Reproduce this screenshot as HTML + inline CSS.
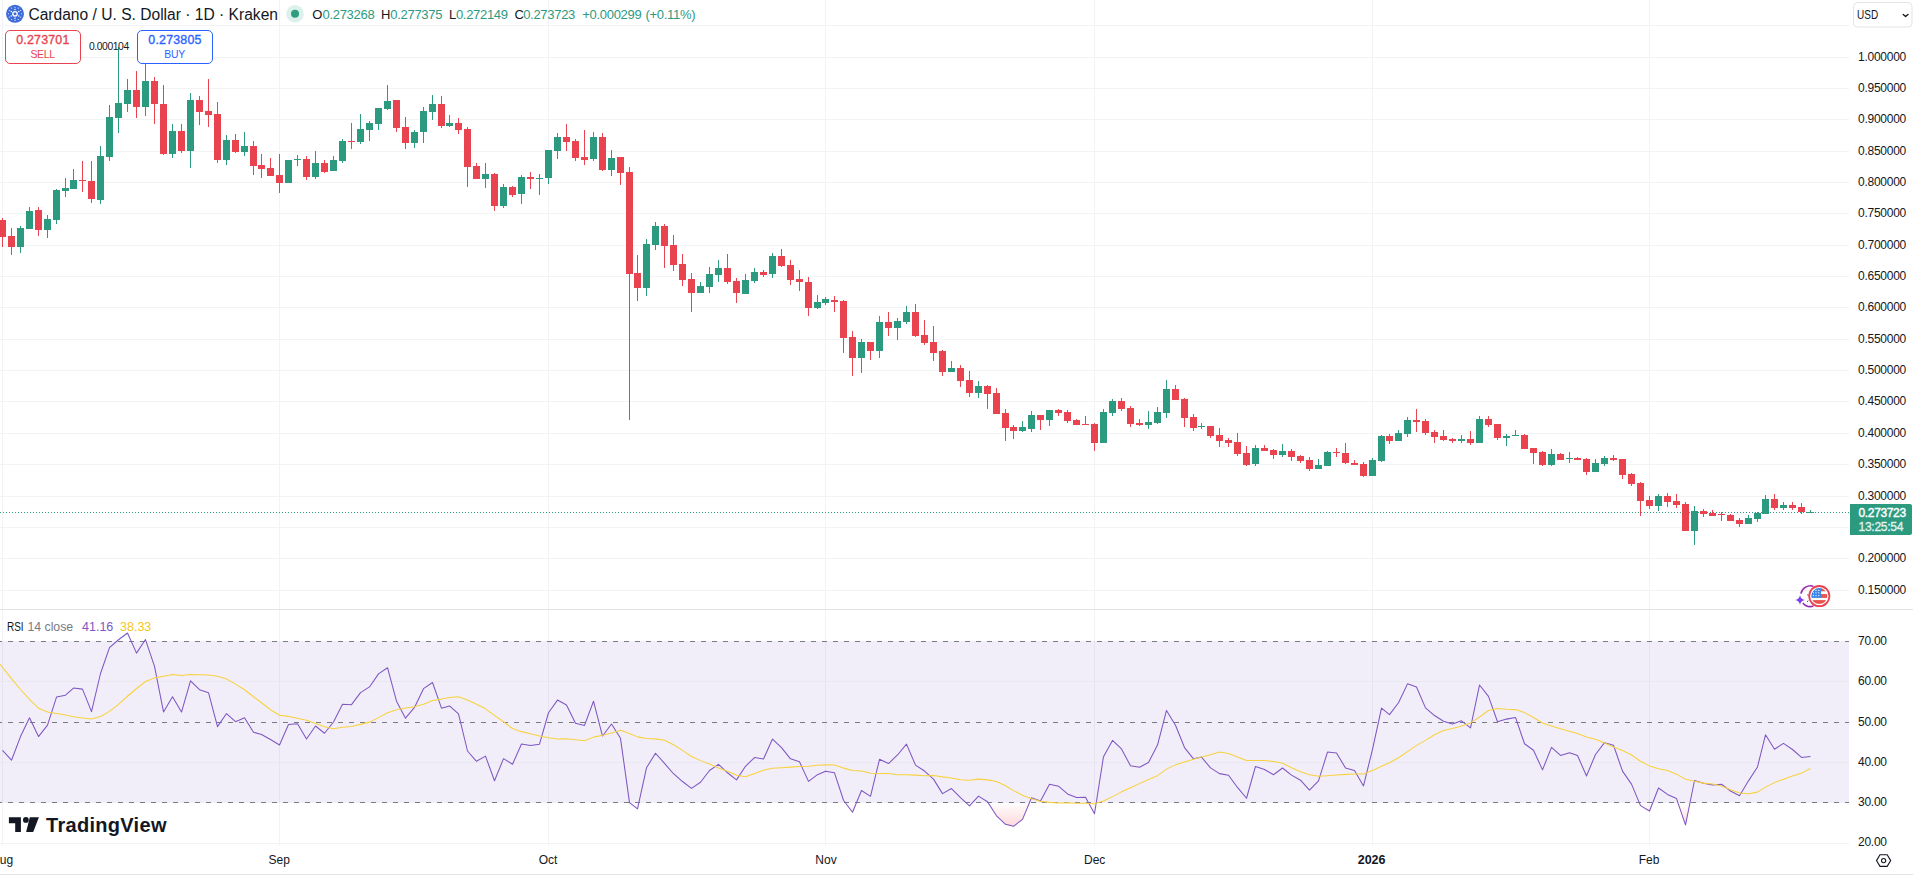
<!DOCTYPE html>
<html><head><meta charset="utf-8"><style>
html,body{margin:0;padding:0;background:#fff;}
#root{position:relative;width:1913px;height:875px;overflow:hidden;background:#fff;font-family:"Liberation Sans",sans-serif;}
#root div{font-family:"Liberation Sans",sans-serif;}
svg{position:absolute;left:0;top:0;}
</style></head><body><div id="root">
<svg width="1913" height="875" viewBox="0 0 1913 875">
<g shape-rendering="crispEdges">
<rect x="2" y="0" width="1" height="846" fill="#F2F3F4"/>
<rect x="279" y="0" width="1" height="846" fill="#F2F3F4"/>
<rect x="548" y="0" width="1" height="846" fill="#F2F3F4"/>
<rect x="825" y="0" width="1" height="846" fill="#F2F3F4"/>
<rect x="1094" y="0" width="1" height="846" fill="#F2F3F4"/>
<rect x="1372" y="0" width="1" height="846" fill="#F2F3F4"/>
<rect x="1649" y="0" width="1" height="846" fill="#F2F3F4"/>
<rect x="0" y="25" width="1849" height="1" fill="#F2F3F4"/>
<rect x="0" y="57" width="1849" height="1" fill="#F2F3F4"/>
<rect x="0" y="88" width="1849" height="1" fill="#F2F3F4"/>
<rect x="0" y="119" width="1849" height="1" fill="#F2F3F4"/>
<rect x="0" y="151" width="1849" height="1" fill="#F2F3F4"/>
<rect x="0" y="182" width="1849" height="1" fill="#F2F3F4"/>
<rect x="0" y="213" width="1849" height="1" fill="#F2F3F4"/>
<rect x="0" y="245" width="1849" height="1" fill="#F2F3F4"/>
<rect x="0" y="276" width="1849" height="1" fill="#F2F3F4"/>
<rect x="0" y="307" width="1849" height="1" fill="#F2F3F4"/>
<rect x="0" y="339" width="1849" height="1" fill="#F2F3F4"/>
<rect x="0" y="370" width="1849" height="1" fill="#F2F3F4"/>
<rect x="0" y="401" width="1849" height="1" fill="#F2F3F4"/>
<rect x="0" y="433" width="1849" height="1" fill="#F2F3F4"/>
<rect x="0" y="464" width="1849" height="1" fill="#F2F3F4"/>
<rect x="0" y="496" width="1849" height="1" fill="#F2F3F4"/>
<rect x="0" y="527" width="1849" height="1" fill="#F2F3F4"/>
<rect x="0" y="558" width="1849" height="1" fill="#F2F3F4"/>
<rect x="0" y="590" width="1849" height="1" fill="#F2F3F4"/>
<rect x="0" y="641" width="1849" height="162" fill="rgba(126,87,194,0.1)"/>
<rect x="0" y="681" width="1849" height="1" fill="#E9E7EF"/>
<rect x="0" y="762" width="1849" height="1" fill="#E9E7EF"/>
<rect x="0" y="843" width="1849" height="1" fill="#F2F3F4"/>
</g>
<defs><linearGradient id="gos" gradientUnits="userSpaceOnUse" x1="0" y1="802.5" x2="0" y2="923.4"><stop offset="0" stop-color="#F23645" stop-opacity="0"/><stop offset="1" stop-color="#F23645" stop-opacity="1"/></linearGradient><linearGradient id="gob" gradientUnits="userSpaceOnUse" x1="0" y1="641.3" x2="0" y2="520.4"><stop offset="0" stop-color="#089981" stop-opacity="0"/><stop offset="1" stop-color="#089981" stop-opacity="1"/></linearGradient><clipPath id="cos"><rect x="0" y="802.5" width="1849" height="60"/></clipPath><clipPath id="cob"><rect x="0" y="600" width="1849" height="41.3"/></clipPath></defs>
<polygon clip-path="url(#cos)" points="2.5,802.5 2.5,750.43 11.5,760.20 20.5,736.59 29.5,717.85 38.5,736.60 47.5,725.09 56.5,697.11 65.5,695.20 73.5,688.05 82.5,689.14 91.5,711.60 100.5,673.50 109.5,647.64 118.5,639.75 127.5,632.98 136.5,653.11 145.5,639.56 154.5,666.40 163.5,711.94 172.5,696.81 181.5,712.07 190.5,680.81 199.5,689.68 208.5,692.66 217.5,726.62 226.5,713.56 235.5,721.73 244.5,717.70 253.5,732.23 261.5,734.44 270.5,739.54 279.5,744.94 288.5,724.54 297.5,723.85 306.5,738.94 315.5,726.02 324.5,733.23 333.5,722.03 342.5,704.21 351.5,704.65 360.5,692.57 369.5,686.93 378.5,673.87 387.5,667.73 396.5,701.20 405.5,718.20 414.5,707.46 423.5,688.66 432.5,682.54 441.5,708.18 449.5,705.96 458.5,713.91 467.5,751.00 476.5,761.28 485.5,756.16 494.5,780.77 503.5,758.66 512.5,764.25 521.5,744.00 530.5,745.41 539.5,744.21 548.5,712.74 557.5,700.08 566.5,704.94 575.5,723.19 584.5,725.40 593.5,701.24 602.5,736.05 611.5,724.04 620.5,738.32 629.5,802.62 637.5,808.94 646.5,767.77 655.5,753.27 664.5,763.39 673.5,773.72 682.5,781.53 691.5,788.35 700.5,782.25 709.5,770.50 718.5,764.34 727.5,772.76 736.5,779.91 745.5,766.28 754.5,757.53 763.5,758.96 772.5,739.04 781.5,747.59 790.5,758.87 799.5,761.81 808.5,781.38 817.5,774.69 825.5,771.15 834.5,772.84 843.5,800.25 852.5,812.27 861.5,790.50 870.5,796.32 879.5,759.35 888.5,763.57 897.5,754.97 906.5,744.10 915.5,765.09 924.5,771.03 933.5,779.14 942.5,793.60 951.5,788.52 960.5,797.71 969.5,805.95 978.5,796.14 987.5,801.78 996.5,815.78 1005.5,824.36 1013.5,826.34 1022.5,819.38 1031.5,797.68 1040.5,800.91 1049.5,784.20 1058.5,786.19 1067.5,793.91 1076.5,797.45 1085.5,797.36 1094.5,813.78 1103.5,756.63 1112.5,740.42 1121.5,748.95 1130.5,765.78 1139.5,767.20 1148.5,762.49 1157.5,745.01 1166.5,710.41 1175.5,725.23 1184.5,747.57 1193.5,758.83 1201.5,757.12 1210.5,767.93 1219.5,773.61 1228.5,775.29 1237.5,787.46 1246.5,798.26 1255.5,766.46 1264.5,769.48 1273.5,774.71 1282.5,768.03 1291.5,775.16 1300.5,780.19 1309.5,790.04 1318.5,780.94 1327.5,752.05 1336.5,752.91 1345.5,767.97 1354.5,770.45 1363.5,785.91 1372.5,749.27 1381.5,708.03 1389.5,714.68 1398.5,702.73 1407.5,683.87 1416.5,687.02 1425.5,707.89 1434.5,715.54 1443.5,721.24 1452.5,724.02 1461.5,720.80 1470.5,727.84 1479.5,685.02 1488.5,696.34 1497.5,721.70 1506.5,719.11 1515.5,717.43 1524.5,743.74 1533.5,750.25 1542.5,769.85 1551.5,747.32 1560.5,755.45 1569.5,752.77 1577.5,755.48 1586.5,775.94 1595.5,754.45 1604.5,742.69 1613.5,745.27 1622.5,771.11 1631.5,784.10 1640.5,805.59 1649.5,811.05 1658.5,787.99 1667.5,794.44 1676.5,798.58 1685.5,824.93 1694.5,780.51 1703.5,783.22 1712.5,785.08 1721.5,784.26 1730.5,791.01 1739.5,795.77 1748.5,780.84 1757.5,766.92 1765.5,734.80 1774.5,749.24 1783.5,743.37 1792.5,749.49 1801.5,757.46 1810.5,756.49 1810.5,802.5" fill="url(#gos)"/>
<polygon clip-path="url(#cob)" points="2.5,641.3 2.5,750.43 11.5,760.20 20.5,736.59 29.5,717.85 38.5,736.60 47.5,725.09 56.5,697.11 65.5,695.20 73.5,688.05 82.5,689.14 91.5,711.60 100.5,673.50 109.5,647.64 118.5,639.75 127.5,632.98 136.5,653.11 145.5,639.56 154.5,666.40 163.5,711.94 172.5,696.81 181.5,712.07 190.5,680.81 199.5,689.68 208.5,692.66 217.5,726.62 226.5,713.56 235.5,721.73 244.5,717.70 253.5,732.23 261.5,734.44 270.5,739.54 279.5,744.94 288.5,724.54 297.5,723.85 306.5,738.94 315.5,726.02 324.5,733.23 333.5,722.03 342.5,704.21 351.5,704.65 360.5,692.57 369.5,686.93 378.5,673.87 387.5,667.73 396.5,701.20 405.5,718.20 414.5,707.46 423.5,688.66 432.5,682.54 441.5,708.18 449.5,705.96 458.5,713.91 467.5,751.00 476.5,761.28 485.5,756.16 494.5,780.77 503.5,758.66 512.5,764.25 521.5,744.00 530.5,745.41 539.5,744.21 548.5,712.74 557.5,700.08 566.5,704.94 575.5,723.19 584.5,725.40 593.5,701.24 602.5,736.05 611.5,724.04 620.5,738.32 629.5,802.62 637.5,808.94 646.5,767.77 655.5,753.27 664.5,763.39 673.5,773.72 682.5,781.53 691.5,788.35 700.5,782.25 709.5,770.50 718.5,764.34 727.5,772.76 736.5,779.91 745.5,766.28 754.5,757.53 763.5,758.96 772.5,739.04 781.5,747.59 790.5,758.87 799.5,761.81 808.5,781.38 817.5,774.69 825.5,771.15 834.5,772.84 843.5,800.25 852.5,812.27 861.5,790.50 870.5,796.32 879.5,759.35 888.5,763.57 897.5,754.97 906.5,744.10 915.5,765.09 924.5,771.03 933.5,779.14 942.5,793.60 951.5,788.52 960.5,797.71 969.5,805.95 978.5,796.14 987.5,801.78 996.5,815.78 1005.5,824.36 1013.5,826.34 1022.5,819.38 1031.5,797.68 1040.5,800.91 1049.5,784.20 1058.5,786.19 1067.5,793.91 1076.5,797.45 1085.5,797.36 1094.5,813.78 1103.5,756.63 1112.5,740.42 1121.5,748.95 1130.5,765.78 1139.5,767.20 1148.5,762.49 1157.5,745.01 1166.5,710.41 1175.5,725.23 1184.5,747.57 1193.5,758.83 1201.5,757.12 1210.5,767.93 1219.5,773.61 1228.5,775.29 1237.5,787.46 1246.5,798.26 1255.5,766.46 1264.5,769.48 1273.5,774.71 1282.5,768.03 1291.5,775.16 1300.5,780.19 1309.5,790.04 1318.5,780.94 1327.5,752.05 1336.5,752.91 1345.5,767.97 1354.5,770.45 1363.5,785.91 1372.5,749.27 1381.5,708.03 1389.5,714.68 1398.5,702.73 1407.5,683.87 1416.5,687.02 1425.5,707.89 1434.5,715.54 1443.5,721.24 1452.5,724.02 1461.5,720.80 1470.5,727.84 1479.5,685.02 1488.5,696.34 1497.5,721.70 1506.5,719.11 1515.5,717.43 1524.5,743.74 1533.5,750.25 1542.5,769.85 1551.5,747.32 1560.5,755.45 1569.5,752.77 1577.5,755.48 1586.5,775.94 1595.5,754.45 1604.5,742.69 1613.5,745.27 1622.5,771.11 1631.5,784.10 1640.5,805.59 1649.5,811.05 1658.5,787.99 1667.5,794.44 1676.5,798.58 1685.5,824.93 1694.5,780.51 1703.5,783.22 1712.5,785.08 1721.5,784.26 1730.5,791.01 1739.5,795.77 1748.5,780.84 1757.5,766.92 1765.5,734.80 1774.5,749.24 1783.5,743.37 1792.5,749.49 1801.5,757.46 1810.5,756.49 1810.5,641.3" fill="url(#gob)"/>
<line x1="0" y1="641.5" x2="1849" y2="641.5" stroke="#787B86" stroke-width="1" stroke-dasharray="5 6" stroke-dashoffset="2.8" shape-rendering="crispEdges"/>
<line x1="0" y1="722.5" x2="1849" y2="722.5" stroke="#787B86" stroke-width="1" stroke-dasharray="5 6" stroke-dashoffset="2.8" shape-rendering="crispEdges"/>
<line x1="0" y1="802.5" x2="1849" y2="802.5" stroke="#787B86" stroke-width="1" stroke-dasharray="5 6" stroke-dashoffset="2.8" shape-rendering="crispEdges"/>
<line x1="0" y1="512.5" x2="1849" y2="512.5" stroke="#2C9A7F" stroke-width="1" stroke-dasharray="1 2" shape-rendering="crispEdges"/>
<g shape-rendering="crispEdges">
<rect x="2" y="218" width="1" height="29" fill="#E8434F"/>
<rect x="-1" y="220" width="7" height="17" fill="#E8434F"/>
<rect x="11" y="228" width="1" height="27" fill="#E8434F"/>
<rect x="8" y="236" width="7" height="11" fill="#E8434F"/>
<rect x="20" y="226" width="1" height="27" fill="#2C9A7F"/>
<rect x="17" y="228" width="7" height="19" fill="#2C9A7F"/>
<rect x="29" y="207" width="1" height="22" fill="#2C9A7F"/>
<rect x="26" y="211" width="7" height="18" fill="#2C9A7F"/>
<rect x="38" y="207" width="1" height="29" fill="#E8434F"/>
<rect x="35" y="210" width="7" height="20" fill="#E8434F"/>
<rect x="47" y="215" width="1" height="23" fill="#2C9A7F"/>
<rect x="44" y="219" width="7" height="11" fill="#2C9A7F"/>
<rect x="56" y="189" width="1" height="35" fill="#2C9A7F"/>
<rect x="53" y="190" width="7" height="30" fill="#2C9A7F"/>
<rect x="65" y="178" width="1" height="19" fill="#2C9A7F"/>
<rect x="62" y="188" width="7" height="3" fill="#2C9A7F"/>
<rect x="73" y="169" width="1" height="20" fill="#2C9A7F"/>
<rect x="70" y="180" width="7" height="9" fill="#2C9A7F"/>
<rect x="82" y="161" width="1" height="31" fill="#E8434F"/>
<rect x="79" y="180" width="7" height="1" fill="#E8434F"/>
<rect x="91" y="161" width="1" height="42" fill="#E8434F"/>
<rect x="88" y="181" width="7" height="18" fill="#E8434F"/>
<rect x="100" y="146" width="1" height="58" fill="#2C9A7F"/>
<rect x="97" y="156" width="7" height="44" fill="#2C9A7F"/>
<rect x="109" y="105" width="1" height="56" fill="#2C9A7F"/>
<rect x="106" y="117" width="7" height="40" fill="#2C9A7F"/>
<rect x="118" y="47" width="1" height="86" fill="#2C9A7F"/>
<rect x="115" y="103" width="7" height="15" fill="#2C9A7F"/>
<rect x="127" y="79" width="1" height="33" fill="#2C9A7F"/>
<rect x="124" y="90" width="7" height="14" fill="#2C9A7F"/>
<rect x="136" y="71" width="1" height="47" fill="#E8434F"/>
<rect x="133" y="90" width="7" height="17" fill="#E8434F"/>
<rect x="145" y="64" width="1" height="52" fill="#2C9A7F"/>
<rect x="142" y="81" width="7" height="26" fill="#2C9A7F"/>
<rect x="154" y="77" width="1" height="47" fill="#E8434F"/>
<rect x="151" y="81" width="7" height="23" fill="#E8434F"/>
<rect x="163" y="85" width="1" height="70" fill="#E8434F"/>
<rect x="160" y="104" width="7" height="50" fill="#E8434F"/>
<rect x="172" y="124" width="1" height="34" fill="#2C9A7F"/>
<rect x="169" y="131" width="7" height="23" fill="#2C9A7F"/>
<rect x="181" y="124" width="1" height="29" fill="#E8434F"/>
<rect x="178" y="131" width="7" height="20" fill="#E8434F"/>
<rect x="190" y="93" width="1" height="75" fill="#2C9A7F"/>
<rect x="187" y="100" width="7" height="51" fill="#2C9A7F"/>
<rect x="199" y="96" width="1" height="29" fill="#E8434F"/>
<rect x="196" y="100" width="7" height="12" fill="#E8434F"/>
<rect x="208" y="79" width="1" height="48" fill="#E8434F"/>
<rect x="205" y="111" width="7" height="4" fill="#E8434F"/>
<rect x="217" y="102" width="1" height="61" fill="#E8434F"/>
<rect x="214" y="114" width="7" height="46" fill="#E8434F"/>
<rect x="226" y="135" width="1" height="30" fill="#2C9A7F"/>
<rect x="223" y="140" width="7" height="20" fill="#2C9A7F"/>
<rect x="235" y="134" width="1" height="19" fill="#E8434F"/>
<rect x="232" y="140" width="7" height="12" fill="#E8434F"/>
<rect x="244" y="132" width="1" height="24" fill="#2C9A7F"/>
<rect x="241" y="146" width="7" height="6" fill="#2C9A7F"/>
<rect x="253" y="141" width="1" height="34" fill="#E8434F"/>
<rect x="250" y="146" width="7" height="20" fill="#E8434F"/>
<rect x="261" y="154" width="1" height="24" fill="#E8434F"/>
<rect x="258" y="165" width="7" height="4" fill="#E8434F"/>
<rect x="270" y="158" width="1" height="18" fill="#E8434F"/>
<rect x="267" y="168" width="7" height="8" fill="#E8434F"/>
<rect x="279" y="154" width="1" height="39" fill="#E8434F"/>
<rect x="276" y="175" width="7" height="8" fill="#E8434F"/>
<rect x="288" y="160" width="1" height="23" fill="#2C9A7F"/>
<rect x="285" y="160" width="7" height="23" fill="#2C9A7F"/>
<rect x="297" y="155" width="1" height="11" fill="#2C9A7F"/>
<rect x="294" y="159" width="7" height="1" fill="#2C9A7F"/>
<rect x="306" y="156" width="1" height="24" fill="#E8434F"/>
<rect x="303" y="159" width="7" height="18" fill="#E8434F"/>
<rect x="315" y="151" width="1" height="28" fill="#2C9A7F"/>
<rect x="312" y="163" width="7" height="14" fill="#2C9A7F"/>
<rect x="324" y="160" width="1" height="13" fill="#E8434F"/>
<rect x="321" y="163" width="7" height="9" fill="#E8434F"/>
<rect x="333" y="156" width="1" height="15" fill="#2C9A7F"/>
<rect x="330" y="160" width="7" height="11" fill="#2C9A7F"/>
<rect x="342" y="139" width="1" height="24" fill="#2C9A7F"/>
<rect x="339" y="141" width="7" height="20" fill="#2C9A7F"/>
<rect x="351" y="123" width="1" height="26" fill="#E8434F"/>
<rect x="348" y="141" width="7" height="1" fill="#E8434F"/>
<rect x="360" y="114" width="1" height="30" fill="#2C9A7F"/>
<rect x="357" y="129" width="7" height="13" fill="#2C9A7F"/>
<rect x="369" y="121" width="1" height="20" fill="#2C9A7F"/>
<rect x="366" y="123" width="7" height="7" fill="#2C9A7F"/>
<rect x="378" y="108" width="1" height="22" fill="#2C9A7F"/>
<rect x="375" y="108" width="7" height="16" fill="#2C9A7F"/>
<rect x="387" y="85" width="1" height="25" fill="#2C9A7F"/>
<rect x="384" y="101" width="7" height="8" fill="#2C9A7F"/>
<rect x="396" y="100" width="1" height="32" fill="#E8434F"/>
<rect x="393" y="100" width="7" height="28" fill="#E8434F"/>
<rect x="405" y="117" width="1" height="32" fill="#E8434F"/>
<rect x="402" y="127" width="7" height="16" fill="#E8434F"/>
<rect x="414" y="130" width="1" height="18" fill="#2C9A7F"/>
<rect x="411" y="132" width="7" height="11" fill="#2C9A7F"/>
<rect x="423" y="107" width="1" height="36" fill="#2C9A7F"/>
<rect x="420" y="111" width="7" height="21" fill="#2C9A7F"/>
<rect x="432" y="95" width="1" height="25" fill="#2C9A7F"/>
<rect x="429" y="104" width="7" height="8" fill="#2C9A7F"/>
<rect x="441" y="96" width="1" height="32" fill="#E8434F"/>
<rect x="438" y="104" width="7" height="22" fill="#E8434F"/>
<rect x="449" y="115" width="1" height="12" fill="#2C9A7F"/>
<rect x="446" y="123" width="7" height="3" fill="#2C9A7F"/>
<rect x="458" y="118" width="1" height="16" fill="#E8434F"/>
<rect x="455" y="123" width="7" height="7" fill="#E8434F"/>
<rect x="467" y="127" width="1" height="60" fill="#E8434F"/>
<rect x="464" y="129" width="7" height="38" fill="#E8434F"/>
<rect x="476" y="163" width="1" height="16" fill="#E8434F"/>
<rect x="473" y="166" width="7" height="13" fill="#E8434F"/>
<rect x="485" y="163" width="1" height="25" fill="#2C9A7F"/>
<rect x="482" y="174" width="7" height="5" fill="#2C9A7F"/>
<rect x="494" y="173" width="1" height="38" fill="#E8434F"/>
<rect x="491" y="174" width="7" height="32" fill="#E8434F"/>
<rect x="503" y="184" width="1" height="24" fill="#2C9A7F"/>
<rect x="500" y="187" width="7" height="19" fill="#2C9A7F"/>
<rect x="512" y="186" width="1" height="11" fill="#E8434F"/>
<rect x="509" y="187" width="7" height="8" fill="#E8434F"/>
<rect x="521" y="175" width="1" height="29" fill="#2C9A7F"/>
<rect x="518" y="177" width="7" height="17" fill="#2C9A7F"/>
<rect x="530" y="172" width="1" height="17" fill="#E8434F"/>
<rect x="527" y="177" width="7" height="2" fill="#E8434F"/>
<rect x="539" y="174" width="1" height="21" fill="#2C9A7F"/>
<rect x="536" y="178" width="7" height="1" fill="#2C9A7F"/>
<rect x="548" y="150" width="1" height="34" fill="#2C9A7F"/>
<rect x="545" y="150" width="7" height="28" fill="#2C9A7F"/>
<rect x="557" y="133" width="1" height="26" fill="#2C9A7F"/>
<rect x="554" y="137" width="7" height="14" fill="#2C9A7F"/>
<rect x="566" y="124" width="1" height="27" fill="#E8434F"/>
<rect x="563" y="137" width="7" height="5" fill="#E8434F"/>
<rect x="575" y="139" width="1" height="22" fill="#E8434F"/>
<rect x="572" y="141" width="7" height="17" fill="#E8434F"/>
<rect x="584" y="130" width="1" height="35" fill="#E8434F"/>
<rect x="581" y="157" width="7" height="3" fill="#E8434F"/>
<rect x="593" y="132" width="1" height="29" fill="#2C9A7F"/>
<rect x="590" y="137" width="7" height="22" fill="#2C9A7F"/>
<rect x="602" y="133" width="1" height="38" fill="#E8434F"/>
<rect x="599" y="137" width="7" height="33" fill="#E8434F"/>
<rect x="611" y="150" width="1" height="26" fill="#2C9A7F"/>
<rect x="608" y="158" width="7" height="12" fill="#2C9A7F"/>
<rect x="620" y="157" width="1" height="28" fill="#E8434F"/>
<rect x="617" y="157" width="7" height="16" fill="#E8434F"/>
<rect x="629" y="167" width="1" height="253" fill="#E8434F"/>
<rect x="626" y="172" width="7" height="102" fill="#E8434F"/>
<rect x="637" y="255" width="1" height="46" fill="#E8434F"/>
<rect x="634" y="273" width="7" height="15" fill="#E8434F"/>
<rect x="646" y="239" width="1" height="57" fill="#2C9A7F"/>
<rect x="643" y="244" width="7" height="44" fill="#2C9A7F"/>
<rect x="655" y="222" width="1" height="28" fill="#2C9A7F"/>
<rect x="652" y="226" width="7" height="19" fill="#2C9A7F"/>
<rect x="664" y="224" width="1" height="44" fill="#E8434F"/>
<rect x="661" y="226" width="7" height="20" fill="#E8434F"/>
<rect x="673" y="235" width="1" height="36" fill="#E8434F"/>
<rect x="670" y="245" width="7" height="20" fill="#E8434F"/>
<rect x="682" y="254" width="1" height="32" fill="#E8434F"/>
<rect x="679" y="264" width="7" height="16" fill="#E8434F"/>
<rect x="691" y="273" width="1" height="39" fill="#E8434F"/>
<rect x="688" y="279" width="7" height="14" fill="#E8434F"/>
<rect x="700" y="282" width="1" height="11" fill="#2C9A7F"/>
<rect x="697" y="286" width="7" height="7" fill="#2C9A7F"/>
<rect x="709" y="267" width="1" height="26" fill="#2C9A7F"/>
<rect x="706" y="274" width="7" height="13" fill="#2C9A7F"/>
<rect x="718" y="260" width="1" height="22" fill="#2C9A7F"/>
<rect x="715" y="268" width="7" height="7" fill="#2C9A7F"/>
<rect x="727" y="254" width="1" height="30" fill="#E8434F"/>
<rect x="724" y="268" width="7" height="14" fill="#E8434F"/>
<rect x="736" y="278" width="1" height="25" fill="#E8434F"/>
<rect x="733" y="281" width="7" height="12" fill="#E8434F"/>
<rect x="745" y="274" width="1" height="20" fill="#2C9A7F"/>
<rect x="742" y="280" width="7" height="14" fill="#2C9A7F"/>
<rect x="754" y="268" width="1" height="15" fill="#2C9A7F"/>
<rect x="751" y="272" width="7" height="9" fill="#2C9A7F"/>
<rect x="763" y="270" width="1" height="7" fill="#E8434F"/>
<rect x="760" y="272" width="7" height="3" fill="#E8434F"/>
<rect x="772" y="253" width="1" height="25" fill="#2C9A7F"/>
<rect x="769" y="256" width="7" height="18" fill="#2C9A7F"/>
<rect x="781" y="249" width="1" height="18" fill="#E8434F"/>
<rect x="778" y="256" width="7" height="10" fill="#E8434F"/>
<rect x="790" y="260" width="1" height="25" fill="#E8434F"/>
<rect x="787" y="265" width="7" height="15" fill="#E8434F"/>
<rect x="799" y="270" width="1" height="21" fill="#E8434F"/>
<rect x="796" y="279" width="7" height="3" fill="#E8434F"/>
<rect x="808" y="277" width="1" height="39" fill="#E8434F"/>
<rect x="805" y="282" width="7" height="26" fill="#E8434F"/>
<rect x="817" y="295" width="1" height="14" fill="#2C9A7F"/>
<rect x="814" y="302" width="7" height="6" fill="#2C9A7F"/>
<rect x="825" y="297" width="1" height="8" fill="#2C9A7F"/>
<rect x="822" y="299" width="7" height="4" fill="#2C9A7F"/>
<rect x="834" y="296" width="1" height="16" fill="#E8434F"/>
<rect x="831" y="300" width="7" height="2" fill="#E8434F"/>
<rect x="843" y="300" width="1" height="53" fill="#E8434F"/>
<rect x="840" y="301" width="7" height="37" fill="#E8434F"/>
<rect x="852" y="331" width="1" height="45" fill="#E8434F"/>
<rect x="849" y="337" width="7" height="21" fill="#E8434F"/>
<rect x="861" y="339" width="1" height="34" fill="#2C9A7F"/>
<rect x="858" y="342" width="7" height="16" fill="#2C9A7F"/>
<rect x="870" y="342" width="1" height="18" fill="#E8434F"/>
<rect x="867" y="342" width="7" height="9" fill="#E8434F"/>
<rect x="879" y="316" width="1" height="42" fill="#2C9A7F"/>
<rect x="876" y="322" width="7" height="29" fill="#2C9A7F"/>
<rect x="888" y="312" width="1" height="24" fill="#E8434F"/>
<rect x="885" y="322" width="7" height="6" fill="#E8434F"/>
<rect x="897" y="318" width="1" height="22" fill="#2C9A7F"/>
<rect x="894" y="321" width="7" height="7" fill="#2C9A7F"/>
<rect x="906" y="306" width="1" height="18" fill="#2C9A7F"/>
<rect x="903" y="312" width="7" height="10" fill="#2C9A7F"/>
<rect x="915" y="304" width="1" height="33" fill="#E8434F"/>
<rect x="912" y="312" width="7" height="24" fill="#E8434F"/>
<rect x="924" y="320" width="1" height="25" fill="#E8434F"/>
<rect x="921" y="335" width="7" height="8" fill="#E8434F"/>
<rect x="933" y="326" width="1" height="35" fill="#E8434F"/>
<rect x="930" y="342" width="7" height="11" fill="#E8434F"/>
<rect x="942" y="350" width="1" height="26" fill="#E8434F"/>
<rect x="939" y="351" width="7" height="21" fill="#E8434F"/>
<rect x="951" y="361" width="1" height="11" fill="#2C9A7F"/>
<rect x="948" y="368" width="7" height="4" fill="#2C9A7F"/>
<rect x="960" y="365" width="1" height="22" fill="#E8434F"/>
<rect x="957" y="368" width="7" height="13" fill="#E8434F"/>
<rect x="969" y="371" width="1" height="26" fill="#E8434F"/>
<rect x="966" y="380" width="7" height="13" fill="#E8434F"/>
<rect x="978" y="381" width="1" height="17" fill="#2C9A7F"/>
<rect x="975" y="386" width="7" height="7" fill="#2C9A7F"/>
<rect x="987" y="385" width="1" height="24" fill="#E8434F"/>
<rect x="984" y="386" width="7" height="8" fill="#E8434F"/>
<rect x="996" y="388" width="1" height="26" fill="#E8434F"/>
<rect x="993" y="393" width="7" height="21" fill="#E8434F"/>
<rect x="1005" y="409" width="1" height="32" fill="#E8434F"/>
<rect x="1002" y="413" width="7" height="15" fill="#E8434F"/>
<rect x="1013" y="425" width="1" height="14" fill="#E8434F"/>
<rect x="1010" y="427" width="7" height="4" fill="#E8434F"/>
<rect x="1022" y="421" width="1" height="11" fill="#2C9A7F"/>
<rect x="1019" y="427" width="7" height="4" fill="#2C9A7F"/>
<rect x="1031" y="411" width="1" height="21" fill="#2C9A7F"/>
<rect x="1028" y="415" width="7" height="14" fill="#2C9A7F"/>
<rect x="1040" y="415" width="1" height="15" fill="#E8434F"/>
<rect x="1037" y="415" width="7" height="5" fill="#E8434F"/>
<rect x="1049" y="410" width="1" height="16" fill="#2C9A7F"/>
<rect x="1046" y="410" width="7" height="10" fill="#2C9A7F"/>
<rect x="1058" y="409" width="1" height="7" fill="#E8434F"/>
<rect x="1055" y="410" width="7" height="3" fill="#E8434F"/>
<rect x="1067" y="410" width="1" height="13" fill="#E8434F"/>
<rect x="1064" y="412" width="7" height="9" fill="#E8434F"/>
<rect x="1076" y="419" width="1" height="6" fill="#E8434F"/>
<rect x="1073" y="420" width="7" height="5" fill="#E8434F"/>
<rect x="1085" y="416" width="1" height="9" fill="#E8434F"/>
<rect x="1082" y="424" width="7" height="1" fill="#E8434F"/>
<rect x="1094" y="423" width="1" height="28" fill="#E8434F"/>
<rect x="1091" y="424" width="7" height="19" fill="#E8434F"/>
<rect x="1103" y="409" width="1" height="34" fill="#2C9A7F"/>
<rect x="1100" y="412" width="7" height="31" fill="#2C9A7F"/>
<rect x="1112" y="399" width="1" height="17" fill="#2C9A7F"/>
<rect x="1109" y="401" width="7" height="12" fill="#2C9A7F"/>
<rect x="1121" y="398" width="1" height="13" fill="#E8434F"/>
<rect x="1118" y="401" width="7" height="8" fill="#E8434F"/>
<rect x="1130" y="406" width="1" height="21" fill="#E8434F"/>
<rect x="1127" y="408" width="7" height="16" fill="#E8434F"/>
<rect x="1139" y="419" width="1" height="7" fill="#E8434F"/>
<rect x="1136" y="423" width="7" height="2" fill="#E8434F"/>
<rect x="1148" y="411" width="1" height="18" fill="#2C9A7F"/>
<rect x="1145" y="422" width="7" height="3" fill="#2C9A7F"/>
<rect x="1157" y="407" width="1" height="17" fill="#2C9A7F"/>
<rect x="1154" y="412" width="7" height="11" fill="#2C9A7F"/>
<rect x="1166" y="380" width="1" height="38" fill="#2C9A7F"/>
<rect x="1163" y="389" width="7" height="24" fill="#2C9A7F"/>
<rect x="1175" y="385" width="1" height="15" fill="#E8434F"/>
<rect x="1172" y="389" width="7" height="11" fill="#E8434F"/>
<rect x="1184" y="398" width="1" height="29" fill="#E8434F"/>
<rect x="1181" y="399" width="7" height="19" fill="#E8434F"/>
<rect x="1193" y="414" width="1" height="17" fill="#E8434F"/>
<rect x="1190" y="417" width="7" height="11" fill="#E8434F"/>
<rect x="1201" y="423" width="1" height="6" fill="#2C9A7F"/>
<rect x="1198" y="426" width="7" height="1" fill="#2C9A7F"/>
<rect x="1210" y="426" width="1" height="12" fill="#E8434F"/>
<rect x="1207" y="426" width="7" height="10" fill="#E8434F"/>
<rect x="1219" y="428" width="1" height="19" fill="#E8434F"/>
<rect x="1216" y="435" width="7" height="6" fill="#E8434F"/>
<rect x="1228" y="438" width="1" height="9" fill="#E8434F"/>
<rect x="1225" y="440" width="7" height="3" fill="#E8434F"/>
<rect x="1237" y="433" width="1" height="23" fill="#E8434F"/>
<rect x="1234" y="442" width="7" height="12" fill="#E8434F"/>
<rect x="1246" y="446" width="1" height="20" fill="#E8434F"/>
<rect x="1243" y="453" width="7" height="12" fill="#E8434F"/>
<rect x="1255" y="445" width="1" height="21" fill="#2C9A7F"/>
<rect x="1252" y="448" width="7" height="16" fill="#2C9A7F"/>
<rect x="1264" y="445" width="1" height="6" fill="#E8434F"/>
<rect x="1261" y="448" width="7" height="3" fill="#E8434F"/>
<rect x="1273" y="449" width="1" height="10" fill="#E8434F"/>
<rect x="1270" y="450" width="7" height="5" fill="#E8434F"/>
<rect x="1282" y="444" width="1" height="13" fill="#2C9A7F"/>
<rect x="1279" y="451" width="7" height="4" fill="#2C9A7F"/>
<rect x="1291" y="449" width="1" height="12" fill="#E8434F"/>
<rect x="1288" y="451" width="7" height="6" fill="#E8434F"/>
<rect x="1300" y="455" width="1" height="8" fill="#E8434F"/>
<rect x="1297" y="456" width="7" height="5" fill="#E8434F"/>
<rect x="1309" y="457" width="1" height="14" fill="#E8434F"/>
<rect x="1306" y="460" width="7" height="9" fill="#E8434F"/>
<rect x="1318" y="459" width="1" height="10" fill="#2C9A7F"/>
<rect x="1315" y="465" width="7" height="4" fill="#2C9A7F"/>
<rect x="1327" y="451" width="1" height="15" fill="#2C9A7F"/>
<rect x="1324" y="452" width="7" height="14" fill="#2C9A7F"/>
<rect x="1336" y="448" width="1" height="9" fill="#E8434F"/>
<rect x="1333" y="452" width="7" height="1" fill="#E8434F"/>
<rect x="1345" y="443" width="1" height="21" fill="#E8434F"/>
<rect x="1342" y="453" width="7" height="10" fill="#E8434F"/>
<rect x="1354" y="460" width="1" height="5" fill="#E8434F"/>
<rect x="1351" y="463" width="7" height="2" fill="#E8434F"/>
<rect x="1363" y="462" width="1" height="15" fill="#E8434F"/>
<rect x="1360" y="464" width="7" height="12" fill="#E8434F"/>
<rect x="1372" y="458" width="1" height="18" fill="#2C9A7F"/>
<rect x="1369" y="460" width="7" height="16" fill="#2C9A7F"/>
<rect x="1381" y="435" width="1" height="27" fill="#2C9A7F"/>
<rect x="1378" y="436" width="7" height="25" fill="#2C9A7F"/>
<rect x="1389" y="434" width="1" height="10" fill="#E8434F"/>
<rect x="1386" y="436" width="7" height="5" fill="#E8434F"/>
<rect x="1398" y="430" width="1" height="11" fill="#2C9A7F"/>
<rect x="1395" y="433" width="7" height="8" fill="#2C9A7F"/>
<rect x="1407" y="417" width="1" height="20" fill="#2C9A7F"/>
<rect x="1404" y="420" width="7" height="14" fill="#2C9A7F"/>
<rect x="1416" y="409" width="1" height="23" fill="#E8434F"/>
<rect x="1413" y="420" width="7" height="2" fill="#E8434F"/>
<rect x="1425" y="419" width="1" height="16" fill="#E8434F"/>
<rect x="1422" y="421" width="7" height="12" fill="#E8434F"/>
<rect x="1434" y="430" width="1" height="13" fill="#E8434F"/>
<rect x="1431" y="432" width="7" height="5" fill="#E8434F"/>
<rect x="1443" y="430" width="1" height="11" fill="#E8434F"/>
<rect x="1440" y="436" width="7" height="4" fill="#E8434F"/>
<rect x="1452" y="438" width="1" height="5" fill="#E8434F"/>
<rect x="1449" y="439" width="7" height="2" fill="#E8434F"/>
<rect x="1461" y="435" width="1" height="8" fill="#2C9A7F"/>
<rect x="1458" y="439" width="7" height="2" fill="#2C9A7F"/>
<rect x="1470" y="431" width="1" height="14" fill="#E8434F"/>
<rect x="1467" y="439" width="7" height="4" fill="#E8434F"/>
<rect x="1479" y="416" width="1" height="27" fill="#2C9A7F"/>
<rect x="1476" y="419" width="7" height="24" fill="#2C9A7F"/>
<rect x="1488" y="416" width="1" height="11" fill="#E8434F"/>
<rect x="1485" y="419" width="7" height="6" fill="#E8434F"/>
<rect x="1497" y="424" width="1" height="16" fill="#E8434F"/>
<rect x="1494" y="424" width="7" height="14" fill="#E8434F"/>
<rect x="1506" y="434" width="1" height="12" fill="#2C9A7F"/>
<rect x="1503" y="436" width="7" height="2" fill="#2C9A7F"/>
<rect x="1515" y="430" width="1" height="6" fill="#2C9A7F"/>
<rect x="1512" y="435" width="7" height="1" fill="#2C9A7F"/>
<rect x="1524" y="434" width="1" height="15" fill="#E8434F"/>
<rect x="1521" y="435" width="7" height="14" fill="#E8434F"/>
<rect x="1533" y="448" width="1" height="16" fill="#E8434F"/>
<rect x="1530" y="448" width="7" height="5" fill="#E8434F"/>
<rect x="1542" y="451" width="1" height="15" fill="#E8434F"/>
<rect x="1539" y="452" width="7" height="13" fill="#E8434F"/>
<rect x="1551" y="449" width="1" height="17" fill="#2C9A7F"/>
<rect x="1548" y="454" width="7" height="11" fill="#2C9A7F"/>
<rect x="1560" y="453" width="1" height="7" fill="#E8434F"/>
<rect x="1557" y="454" width="7" height="6" fill="#E8434F"/>
<rect x="1569" y="452" width="1" height="11" fill="#2C9A7F"/>
<rect x="1566" y="458" width="7" height="1" fill="#2C9A7F"/>
<rect x="1577" y="457" width="1" height="3" fill="#E8434F"/>
<rect x="1574" y="458" width="7" height="2" fill="#E8434F"/>
<rect x="1586" y="458" width="1" height="17" fill="#E8434F"/>
<rect x="1583" y="459" width="7" height="13" fill="#E8434F"/>
<rect x="1595" y="459" width="1" height="13" fill="#2C9A7F"/>
<rect x="1592" y="463" width="7" height="9" fill="#2C9A7F"/>
<rect x="1604" y="456" width="1" height="10" fill="#2C9A7F"/>
<rect x="1601" y="458" width="7" height="6" fill="#2C9A7F"/>
<rect x="1613" y="455" width="1" height="6" fill="#E8434F"/>
<rect x="1610" y="458" width="7" height="2" fill="#E8434F"/>
<rect x="1622" y="459" width="1" height="20" fill="#E8434F"/>
<rect x="1619" y="459" width="7" height="16" fill="#E8434F"/>
<rect x="1631" y="473" width="1" height="13" fill="#E8434F"/>
<rect x="1628" y="474" width="7" height="10" fill="#E8434F"/>
<rect x="1640" y="482" width="1" height="34" fill="#E8434F"/>
<rect x="1637" y="483" width="7" height="18" fill="#E8434F"/>
<rect x="1649" y="496" width="1" height="13" fill="#E8434F"/>
<rect x="1646" y="500" width="7" height="6" fill="#E8434F"/>
<rect x="1658" y="494" width="1" height="17" fill="#2C9A7F"/>
<rect x="1655" y="496" width="7" height="10" fill="#2C9A7F"/>
<rect x="1667" y="493" width="1" height="14" fill="#E8434F"/>
<rect x="1664" y="496" width="7" height="6" fill="#E8434F"/>
<rect x="1676" y="494" width="1" height="14" fill="#E8434F"/>
<rect x="1673" y="501" width="7" height="4" fill="#E8434F"/>
<rect x="1685" y="502" width="1" height="29" fill="#E8434F"/>
<rect x="1682" y="504" width="7" height="27" fill="#E8434F"/>
<rect x="1694" y="506" width="1" height="39" fill="#2C9A7F"/>
<rect x="1691" y="511" width="7" height="20" fill="#2C9A7F"/>
<rect x="1703" y="509" width="1" height="8" fill="#E8434F"/>
<rect x="1700" y="511" width="7" height="3" fill="#E8434F"/>
<rect x="1712" y="510" width="1" height="6" fill="#E8434F"/>
<rect x="1709" y="513" width="7" height="3" fill="#E8434F"/>
<rect x="1721" y="512" width="1" height="9" fill="#E8434F"/>
<rect x="1718" y="514" width="7" height="1" fill="#E8434F"/>
<rect x="1730" y="514" width="1" height="7" fill="#E8434F"/>
<rect x="1727" y="515" width="7" height="6" fill="#E8434F"/>
<rect x="1739" y="518" width="1" height="9" fill="#E8434F"/>
<rect x="1736" y="520" width="7" height="4" fill="#E8434F"/>
<rect x="1748" y="515" width="1" height="9" fill="#2C9A7F"/>
<rect x="1745" y="518" width="7" height="6" fill="#2C9A7F"/>
<rect x="1757" y="512" width="1" height="10" fill="#2C9A7F"/>
<rect x="1754" y="513" width="7" height="6" fill="#2C9A7F"/>
<rect x="1765" y="495" width="1" height="19" fill="#2C9A7F"/>
<rect x="1762" y="499" width="7" height="15" fill="#2C9A7F"/>
<rect x="1774" y="494" width="1" height="16" fill="#E8434F"/>
<rect x="1771" y="499" width="7" height="9" fill="#E8434F"/>
<rect x="1783" y="502" width="1" height="8" fill="#2C9A7F"/>
<rect x="1780" y="505" width="7" height="3" fill="#2C9A7F"/>
<rect x="1792" y="502" width="1" height="8" fill="#E8434F"/>
<rect x="1789" y="505" width="7" height="3" fill="#E8434F"/>
<rect x="1801" y="503" width="1" height="11" fill="#E8434F"/>
<rect x="1798" y="507" width="7" height="5" fill="#E8434F"/>
<rect x="1810" y="510" width="1" height="3" fill="#2C9A7F"/>
<rect x="1807" y="512" width="7" height="1" fill="#2C9A7F"/>
</g>
<polyline points="2.5,750.43 11.5,760.20 20.5,736.59 29.5,717.85 38.5,736.60 47.5,725.09 56.5,697.11 65.5,695.20 73.5,688.05 82.5,689.14 91.5,711.60 100.5,673.50 109.5,647.64 118.5,639.75 127.5,632.98 136.5,653.11 145.5,639.56 154.5,666.40 163.5,711.94 172.5,696.81 181.5,712.07 190.5,680.81 199.5,689.68 208.5,692.66 217.5,726.62 226.5,713.56 235.5,721.73 244.5,717.70 253.5,732.23 261.5,734.44 270.5,739.54 279.5,744.94 288.5,724.54 297.5,723.85 306.5,738.94 315.5,726.02 324.5,733.23 333.5,722.03 342.5,704.21 351.5,704.65 360.5,692.57 369.5,686.93 378.5,673.87 387.5,667.73 396.5,701.20 405.5,718.20 414.5,707.46 423.5,688.66 432.5,682.54 441.5,708.18 449.5,705.96 458.5,713.91 467.5,751.00 476.5,761.28 485.5,756.16 494.5,780.77 503.5,758.66 512.5,764.25 521.5,744.00 530.5,745.41 539.5,744.21 548.5,712.74 557.5,700.08 566.5,704.94 575.5,723.19 584.5,725.40 593.5,701.24 602.5,736.05 611.5,724.04 620.5,738.32 629.5,802.62 637.5,808.94 646.5,767.77 655.5,753.27 664.5,763.39 673.5,773.72 682.5,781.53 691.5,788.35 700.5,782.25 709.5,770.50 718.5,764.34 727.5,772.76 736.5,779.91 745.5,766.28 754.5,757.53 763.5,758.96 772.5,739.04 781.5,747.59 790.5,758.87 799.5,761.81 808.5,781.38 817.5,774.69 825.5,771.15 834.5,772.84 843.5,800.25 852.5,812.27 861.5,790.50 870.5,796.32 879.5,759.35 888.5,763.57 897.5,754.97 906.5,744.10 915.5,765.09 924.5,771.03 933.5,779.14 942.5,793.60 951.5,788.52 960.5,797.71 969.5,805.95 978.5,796.14 987.5,801.78 996.5,815.78 1005.5,824.36 1013.5,826.34 1022.5,819.38 1031.5,797.68 1040.5,800.91 1049.5,784.20 1058.5,786.19 1067.5,793.91 1076.5,797.45 1085.5,797.36 1094.5,813.78 1103.5,756.63 1112.5,740.42 1121.5,748.95 1130.5,765.78 1139.5,767.20 1148.5,762.49 1157.5,745.01 1166.5,710.41 1175.5,725.23 1184.5,747.57 1193.5,758.83 1201.5,757.12 1210.5,767.93 1219.5,773.61 1228.5,775.29 1237.5,787.46 1246.5,798.26 1255.5,766.46 1264.5,769.48 1273.5,774.71 1282.5,768.03 1291.5,775.16 1300.5,780.19 1309.5,790.04 1318.5,780.94 1327.5,752.05 1336.5,752.91 1345.5,767.97 1354.5,770.45 1363.5,785.91 1372.5,749.27 1381.5,708.03 1389.5,714.68 1398.5,702.73 1407.5,683.87 1416.5,687.02 1425.5,707.89 1434.5,715.54 1443.5,721.24 1452.5,724.02 1461.5,720.80 1470.5,727.84 1479.5,685.02 1488.5,696.34 1497.5,721.70 1506.5,719.11 1515.5,717.43 1524.5,743.74 1533.5,750.25 1542.5,769.85 1551.5,747.32 1560.5,755.45 1569.5,752.77 1577.5,755.48 1586.5,775.94 1595.5,754.45 1604.5,742.69 1613.5,745.27 1622.5,771.11 1631.5,784.10 1640.5,805.59 1649.5,811.05 1658.5,787.99 1667.5,794.44 1676.5,798.58 1685.5,824.93 1694.5,780.51 1703.5,783.22 1712.5,785.08 1721.5,784.26 1730.5,791.01 1739.5,795.77 1748.5,780.84 1757.5,766.92 1765.5,734.80 1774.5,749.24 1783.5,743.37 1792.5,749.49 1801.5,757.46 1810.5,756.49" fill="none" stroke="#7E57C2" stroke-width="1.05" stroke-linejoin="round"/>
<polyline points="0,664.2 2.5,667.40 11.5,678.60 20.5,689.50 29.5,699.40 38.5,708.20 47.5,711.90 56.5,713.50 65.5,715.10 73.5,716.70 82.5,718.10 91.5,719.10 100.5,716.50 109.5,711.40 118.5,704.44 127.5,696.26 136.5,688.49 145.5,681.48 154.5,677.88 163.5,676.24 172.5,674.43 181.5,675.52 190.5,674.57 199.5,674.69 208.5,675.02 217.5,676.15 226.5,678.96 235.5,684.13 244.5,689.75 253.5,696.72 261.5,702.74 270.5,709.78 279.5,715.30 288.5,716.39 297.5,718.26 306.5,720.21 315.5,723.56 324.5,726.65 333.5,728.65 342.5,727.25 351.5,726.47 360.5,724.38 369.5,722.13 378.5,717.63 387.5,712.77 396.5,709.86 405.5,707.90 414.5,706.78 423.5,704.27 432.5,700.45 441.5,699.11 449.5,697.40 458.5,696.82 467.5,700.10 476.5,704.26 485.5,708.81 494.5,715.42 503.5,721.73 512.5,728.51 521.5,731.63 530.5,733.71 539.5,736.10 548.5,737.84 557.5,738.94 566.5,738.74 575.5,739.85 584.5,740.73 593.5,737.13 602.5,735.28 611.5,733.07 620.5,730.33 629.5,733.42 637.5,736.87 646.5,738.40 655.5,738.86 664.5,740.34 673.5,744.70 682.5,750.42 691.5,756.49 700.5,760.63 709.5,763.90 718.5,768.02 727.5,771.28 736.5,775.18 745.5,776.71 754.5,773.41 763.5,770.17 772.5,768.30 781.5,767.75 790.5,767.11 799.5,766.40 808.5,766.23 817.5,765.35 825.5,764.67 834.5,765.10 843.5,768.12 852.5,770.51 861.5,771.03 870.5,773.28 879.5,773.43 888.5,773.57 897.5,774.83 906.5,774.71 915.5,775.12 924.5,775.70 933.5,775.46 942.5,776.87 951.5,777.98 960.5,779.82 969.5,780.25 978.5,779.13 987.5,779.87 996.5,781.45 1005.5,785.77 1013.5,790.63 1022.5,795.18 1031.5,798.79 1040.5,801.34 1049.5,802.38 1058.5,802.90 1067.5,802.75 1076.5,803.23 1085.5,803.28 1094.5,803.72 1103.5,800.92 1112.5,796.60 1121.5,791.85 1130.5,787.77 1139.5,783.61 1148.5,779.46 1157.5,775.65 1166.5,769.11 1175.5,764.85 1184.5,762.03 1193.5,759.31 1201.5,757.05 1210.5,754.76 1219.5,752.02 1228.5,753.52 1237.5,757.08 1246.5,760.40 1255.5,760.44 1264.5,760.54 1273.5,761.46 1282.5,763.19 1291.5,767.75 1300.5,771.68 1309.5,774.78 1318.5,776.33 1327.5,775.69 1336.5,774.91 1345.5,774.36 1354.5,774.06 1363.5,774.05 1372.5,770.58 1381.5,766.33 1389.5,762.70 1398.5,757.77 1407.5,751.65 1416.5,745.41 1425.5,740.34 1434.5,734.79 1443.5,730.41 1452.5,728.47 1461.5,725.95 1470.5,722.93 1479.5,716.99 1488.5,710.51 1497.5,708.45 1506.5,709.27 1515.5,709.61 1524.5,712.62 1533.5,717.54 1542.5,723.01 1551.5,725.95 1560.5,728.66 1569.5,731.14 1577.5,733.45 1586.5,737.11 1595.5,739.26 1604.5,742.92 1613.5,746.97 1622.5,750.48 1631.5,754.95 1640.5,761.27 1649.5,765.90 1658.5,768.66 1667.5,770.59 1676.5,774.16 1685.5,779.31 1694.5,781.20 1703.5,783.13 1712.5,784.00 1721.5,786.04 1730.5,789.69 1739.5,792.95 1748.5,793.67 1757.5,792.12 1765.5,787.13 1774.5,782.60 1783.5,779.24 1792.5,776.09 1801.5,773.13 1810.5,768.50" fill="none" stroke="#F7D23E" stroke-width="1.05" stroke-linejoin="round"/>
<g shape-rendering="crispEdges"><rect x="0" y="609" width="1913" height="1" fill="#E2E3E5"/>
<rect x="0" y="874" width="1913" height="1" fill="#E2E3E5"/>
</g>
<path d="M1850 504 H1910 A2 2 0 0 1 1912 506 V533 A2 2 0 0 1 1910 535 H1850 Z" fill="#2C9A7F"/>
<rect x="5.5" y="30.5" width="75" height="33" rx="4.5" fill="#fff" stroke="#E8434F" stroke-width="1"/>
<rect x="137.5" y="30.5" width="75" height="33" rx="4.5" fill="#fff" stroke="#2962FF" stroke-width="1"/>
<rect x="1853.5" y="2.5" width="58.5" height="24.5" rx="4" fill="#fff" stroke="#E3E4E6" stroke-width="1"/>
<path d="M1903.2 14.4 L1905.6 16.6 L1908 14.4" fill="none" stroke="#131722" stroke-width="1.3" stroke-linecap="round" stroke-linejoin="round"/>
<circle cx="15" cy="13.8" r="9" fill="#3C6CDB"/>
<g fill="#fff"><circle cx="15" cy="13.8" r="2.2" fill="none" stroke="#fff" stroke-width="1.3"/><circle cx="18.81" cy="16.00" r="0.75"/><circle cx="15.00" cy="18.20" r="0.75"/><circle cx="11.19" cy="16.00" r="0.75"/><circle cx="11.19" cy="11.60" r="0.75"/><circle cx="15.00" cy="9.40" r="0.75"/><circle cx="18.81" cy="11.60" r="0.75"/><circle cx="21.60" cy="13.80" r="0.55"/><circle cx="20.72" cy="17.10" r="0.55"/><circle cx="18.30" cy="19.52" r="0.55"/><circle cx="15.00" cy="20.40" r="0.55"/><circle cx="11.70" cy="19.52" r="0.55"/><circle cx="9.28" cy="17.10" r="0.55"/><circle cx="8.40" cy="13.80" r="0.55"/><circle cx="9.28" cy="10.50" r="0.55"/><circle cx="11.70" cy="8.08" r="0.55"/><circle cx="15.00" cy="7.20" r="0.55"/><circle cx="18.30" cy="8.08" r="0.55"/><circle cx="20.72" cy="10.50" r="0.55"/></g>
<circle cx="295" cy="13.8" r="8.8" fill="#DDF1EC"/><circle cx="295" cy="13.8" r="4" fill="#2E9C7F"/>
<path d="M1880 854.8 L1887.2 854.8 L1890.7 860.6 L1887.2 866.4 L1880 866.4 L1876.5 860.6 Z" fill="none" stroke="#131722" stroke-width="1.1"/><circle cx="1883.6" cy="860.6" r="2.1" fill="none" stroke="#131722" stroke-width="1.1"/>
<path d="M1813.4 586.2 A9.9 9.9 0 0 0 1800.9 593.6" fill="none" stroke="#9C27B0" stroke-width="1.6"/>
<path d="M1802.8 602.9 A9.9 9.9 0 0 0 1813.4 606" fill="none" stroke="#9C27B0" stroke-width="1.6"/>
<path d="M1800 595 Q1800.7 599.3 1805 600 Q1800.7 600.7 1800 605 Q1799.3 600.7 1795 600 Q1799.3 599.3 1800 595 Z" fill="#7B3FF2"/>
<path d="M1807.5 594.5 L1808.5 596.1 M1808.2 600.5 L1807.2 602" stroke="#9C27B0" stroke-width="1" fill="none"/>
<circle cx="1819.3" cy="596.1" r="10.1" fill="#fff" stroke="#E8434F" stroke-width="1.8"/>
<clipPath id="fc"><circle cx="1819.3" cy="596.1" r="8"/></clipPath><g clip-path="url(#fc)"><rect x="1821" y="588" width="10" height="3.3" fill="#E9534B"/><rect x="1821" y="594.1" width="10" height="3.8" fill="#E9534B"/><rect x="1808" y="600.1" width="24" height="3.8" fill="#E9534B"/><rect x="1808" y="587.9" width="13.1" height="10" fill="#3A86E8"/><circle cx="1813.4" cy="590.4" r="0.65" fill="#fff"/><circle cx="1813.4" cy="592.8" r="0.65" fill="#fff"/><circle cx="1813.4" cy="595.6" r="0.65" fill="#fff"/><circle cx="1816" cy="590.4" r="0.65" fill="#fff"/><circle cx="1816" cy="592.8" r="0.65" fill="#fff"/><circle cx="1816" cy="595.6" r="0.65" fill="#fff"/><circle cx="1818.8" cy="590.4" r="0.65" fill="#fff"/><circle cx="1818.8" cy="592.8" r="0.65" fill="#fff"/><circle cx="1818.8" cy="595.6" r="0.65" fill="#fff"/></g>
<g fill="#131722"><path d="M8.9 817.2 H20.9 V832 H15.2 V823.2 H8.9 Z"/><circle cx="25.9" cy="819.9" r="2.9"/><path d="M29.8 817.2 H38.9 L33.2 832 H26.1 Z"/></g>
</svg>
<div style="position:absolute;left:28.40px;top:6.59px;font-size:15.6px;line-height:1;color:#131722;white-space:nowrap;">Cardano / U. S. Dollar · 1D · Kraken</div>
<div style="position:absolute;left:312.20px;top:8.10px;font-size:13px;line-height:1;color:#131722;white-space:nowrap;letter-spacing:-0.3px;">O</div>
<div style="position:absolute;left:322.50px;top:8.10px;font-size:13px;line-height:1;color:#2C9A7F;white-space:nowrap;letter-spacing:-0.3px;">0.273268</div>
<div style="position:absolute;left:381.00px;top:8.10px;font-size:13px;line-height:1;color:#131722;white-space:nowrap;letter-spacing:-0.3px;">H</div>
<div style="position:absolute;left:390.30px;top:8.10px;font-size:13px;line-height:1;color:#2C9A7F;white-space:nowrap;letter-spacing:-0.3px;">0.277375</div>
<div style="position:absolute;left:449.00px;top:8.10px;font-size:13px;line-height:1;color:#131722;white-space:nowrap;letter-spacing:-0.3px;">L</div>
<div style="position:absolute;left:455.90px;top:8.10px;font-size:13px;line-height:1;color:#2C9A7F;white-space:nowrap;letter-spacing:-0.3px;">0.272149</div>
<div style="position:absolute;left:514.50px;top:8.10px;font-size:13px;line-height:1;color:#131722;white-space:nowrap;letter-spacing:-0.3px;">C</div>
<div style="position:absolute;left:523.20px;top:8.10px;font-size:13px;line-height:1;color:#2C9A7F;white-space:nowrap;letter-spacing:-0.3px;">0.273723</div>
<div style="position:absolute;left:582.30px;top:8.10px;font-size:13px;line-height:1;color:#2C9A7F;white-space:nowrap;letter-spacing:-0.3px;">+0.000299</div>
<div style="position:absolute;left:645.50px;top:8.10px;font-size:13px;line-height:1;color:#2C9A7F;white-space:nowrap;letter-spacing:-0.3px;">(+0.11%)</div>
<div style="position:absolute;left:-57.10px;top:34.10px;width:200px;text-align:center;font-size:12.4px;line-height:1;color:#E8434F;white-space:nowrap;-webkit-text-stroke:0.35px #E8434F;letter-spacing:0.2px;">0.273701</div>
<div style="position:absolute;left:-57.50px;top:50.00px;width:200px;text-align:center;font-size:10.4px;line-height:1;color:#E8434F;white-space:nowrap;letter-spacing:-0.3px;">SELL</div>
<div style="position:absolute;left:75.00px;top:34.10px;width:200px;text-align:center;font-size:12.4px;line-height:1;color:#2962FF;white-space:nowrap;-webkit-text-stroke:0.35px #2962FF;letter-spacing:0.2px;">0.273805</div>
<div style="position:absolute;left:74.60px;top:50.00px;width:200px;text-align:center;font-size:10.4px;line-height:1;color:#2962FF;white-space:nowrap;letter-spacing:-0.3px;">BUY</div>
<div style="position:absolute;left:89.00px;top:41.80px;font-size:10.4px;line-height:1;color:#131722;white-space:nowrap;letter-spacing:-0.45px;">0.000104</div>
<div style="position:absolute;left:1857.30px;top:8.72px;font-size:12.5px;line-height:1;color:#131722;white-space:nowrap;transform:scaleX(0.8);transform-origin:0 0;">USD</div>
<div style="position:absolute;left:1858.00px;top:50.84px;font-size:12px;line-height:1;color:#131722;white-space:nowrap;letter-spacing:-0.26px;">1.000000</div>
<div style="position:absolute;left:1858.00px;top:81.84px;font-size:12px;line-height:1;color:#131722;white-space:nowrap;letter-spacing:-0.26px;">0.950000</div>
<div style="position:absolute;left:1858.00px;top:112.84px;font-size:12px;line-height:1;color:#131722;white-space:nowrap;letter-spacing:-0.26px;">0.900000</div>
<div style="position:absolute;left:1858.00px;top:144.84px;font-size:12px;line-height:1;color:#131722;white-space:nowrap;letter-spacing:-0.26px;">0.850000</div>
<div style="position:absolute;left:1858.00px;top:175.84px;font-size:12px;line-height:1;color:#131722;white-space:nowrap;letter-spacing:-0.26px;">0.800000</div>
<div style="position:absolute;left:1858.00px;top:206.84px;font-size:12px;line-height:1;color:#131722;white-space:nowrap;letter-spacing:-0.26px;">0.750000</div>
<div style="position:absolute;left:1858.00px;top:238.84px;font-size:12px;line-height:1;color:#131722;white-space:nowrap;letter-spacing:-0.26px;">0.700000</div>
<div style="position:absolute;left:1858.00px;top:269.84px;font-size:12px;line-height:1;color:#131722;white-space:nowrap;letter-spacing:-0.26px;">0.650000</div>
<div style="position:absolute;left:1858.00px;top:300.84px;font-size:12px;line-height:1;color:#131722;white-space:nowrap;letter-spacing:-0.26px;">0.600000</div>
<div style="position:absolute;left:1858.00px;top:332.84px;font-size:12px;line-height:1;color:#131722;white-space:nowrap;letter-spacing:-0.26px;">0.550000</div>
<div style="position:absolute;left:1858.00px;top:363.84px;font-size:12px;line-height:1;color:#131722;white-space:nowrap;letter-spacing:-0.26px;">0.500000</div>
<div style="position:absolute;left:1858.00px;top:394.84px;font-size:12px;line-height:1;color:#131722;white-space:nowrap;letter-spacing:-0.26px;">0.450000</div>
<div style="position:absolute;left:1858.00px;top:426.84px;font-size:12px;line-height:1;color:#131722;white-space:nowrap;letter-spacing:-0.26px;">0.400000</div>
<div style="position:absolute;left:1858.00px;top:457.84px;font-size:12px;line-height:1;color:#131722;white-space:nowrap;letter-spacing:-0.26px;">0.350000</div>
<div style="position:absolute;left:1858.00px;top:489.84px;font-size:12px;line-height:1;color:#131722;white-space:nowrap;letter-spacing:-0.26px;">0.300000</div>
<div style="position:absolute;left:1858.00px;top:551.84px;font-size:12px;line-height:1;color:#131722;white-space:nowrap;letter-spacing:-0.26px;">0.200000</div>
<div style="position:absolute;left:1858.00px;top:583.84px;font-size:12px;line-height:1;color:#131722;white-space:nowrap;letter-spacing:-0.26px;">0.150000</div>
<div style="position:absolute;left:1858.50px;top:507.04px;font-size:12px;line-height:1;color:#fff;white-space:nowrap;letter-spacing:-0.35px;-webkit-text-stroke:0.4px #fff;">0.273723</div>
<div style="position:absolute;left:1858.50px;top:520.86px;font-size:12.1px;line-height:1;color:rgba(255,255,255,0.78);white-space:nowrap;letter-spacing:-0.3px;-webkit-text-stroke:0.4px rgba(255,255,255,0.78);">13:25:54</div>
<div style="position:absolute;left:6.50px;top:620.64px;font-size:12px;line-height:1;color:#131722;white-space:nowrap;transform:scaleX(0.83);transform-origin:0 0;">RSI</div>
<div style="position:absolute;left:27.40px;top:620.89px;font-size:12.3px;line-height:1;color:#787B86;white-space:nowrap;">14 close</div>
<div style="position:absolute;left:82.00px;top:620.72px;font-size:12.5px;line-height:1;color:#7E57C2;white-space:nowrap;">41.16</div>
<div style="position:absolute;left:120.00px;top:620.72px;font-size:12.5px;line-height:1;color:#F5C518;white-space:nowrap;">38.33</div>
<div style="position:absolute;left:1858.00px;top:634.84px;font-size:12px;line-height:1;color:#131722;white-space:nowrap;letter-spacing:-0.26px;">70.00</div>
<div style="position:absolute;left:1858.00px;top:674.84px;font-size:12px;line-height:1;color:#131722;white-space:nowrap;letter-spacing:-0.26px;">60.00</div>
<div style="position:absolute;left:1858.00px;top:715.84px;font-size:12px;line-height:1;color:#131722;white-space:nowrap;letter-spacing:-0.26px;">50.00</div>
<div style="position:absolute;left:1858.00px;top:755.84px;font-size:12px;line-height:1;color:#131722;white-space:nowrap;letter-spacing:-0.26px;">40.00</div>
<div style="position:absolute;left:1858.00px;top:795.84px;font-size:12px;line-height:1;color:#131722;white-space:nowrap;letter-spacing:-0.26px;">30.00</div>
<div style="position:absolute;left:1850px;top:610px;width:63px;height:236px;overflow:hidden;"><div style="position:absolute;left:8.00px;top:225.84px;font-size:12px;line-height:1;color:#131722;white-space:nowrap;letter-spacing:-0.26px;">20.00</div></div>
<div style="position:absolute;left:46.00px;top:814.97px;font-size:20px;line-height:1;color:#131722;white-space:nowrap;font-weight:bold;letter-spacing:0.3px;">TradingView</div>
<div style="position:absolute;left:-97.50px;top:854.14px;width:200px;text-align:center;font-size:12px;line-height:1;color:#131722;white-space:nowrap;">Aug</div>
<div style="position:absolute;left:179.30px;top:854.14px;width:200px;text-align:center;font-size:12px;line-height:1;color:#131722;white-space:nowrap;">Sep</div>
<div style="position:absolute;left:448.00px;top:854.14px;width:200px;text-align:center;font-size:12px;line-height:1;color:#131722;white-space:nowrap;">Oct</div>
<div style="position:absolute;left:726.00px;top:854.14px;width:200px;text-align:center;font-size:12px;line-height:1;color:#131722;white-space:nowrap;">Nov</div>
<div style="position:absolute;left:994.70px;top:854.14px;width:200px;text-align:center;font-size:12px;line-height:1;color:#131722;white-space:nowrap;">Dec</div>
<div style="position:absolute;left:1271.60px;top:854.14px;width:200px;text-align:center;font-size:12px;line-height:1;color:#131722;white-space:nowrap;font-weight:bold;font-size:12.5px;">2026</div>
<div style="position:absolute;left:1549.00px;top:854.14px;width:200px;text-align:center;font-size:12px;line-height:1;color:#131722;white-space:nowrap;">Feb</div>
</div></body></html>
